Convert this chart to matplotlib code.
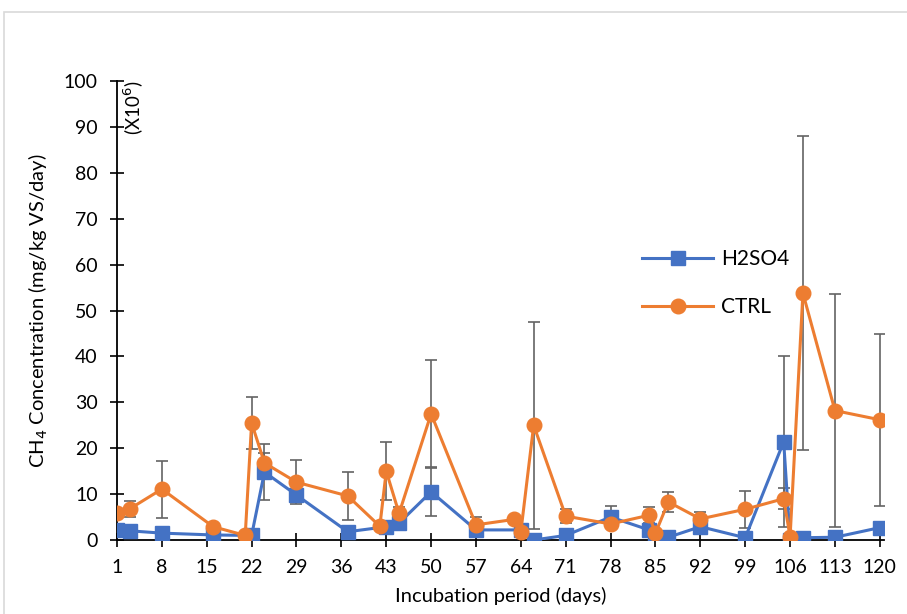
import numpy as np
import matplotlib
matplotlib.use("Agg")
import matplotlib.pyplot as plt
from matplotlib.patches import Rectangle

plt.rcParams['font.family'] = ['Lato', 'DejaVu Sans']

# H2SO4 treatment
h2so4_days = [1, 3, 8, 16, 22, 24, 29, 37, 43, 45, 50, 57, 64, 66, 71, 78, 84, 85, 87, 92, 99, 105, 106, 108, 113, 120]
h2so4_vals = [2.1, 2.0, 1.5, 1.1, 1.0, 14.8, 9.8, 1.8, 2.9, 3.7, 10.5, 2.2, 2.2, 0.0, 1.0, 5.0, 2.2, 0.5, 0.6, 2.9, 0.5, 21.4, 0.1, 0.5, 0.6, 2.7]
h2so4_err = [0.4, 0.3, 0.3, 0.3, 0.3, 6.1, 1.2, 0.4, 0.5, 0.8, 5.2, 0.4, 0.4, 0.2, 0.3, 2.4, 0.5, 0.2, 0.2, 0.6, 0.2, 18.6, 0.1, 0.2, 0.2, 0.4]

# Control
ctrl_days = [1, 3, 8, 16, 21, 22, 24, 29, 37, 42, 43, 45, 50, 57, 63, 64, 66, 71, 78, 84, 85, 87, 92, 99, 105, 106, 108, 113, 120]
ctrl_vals = [5.8, 6.8, 11.1, 2.9, 1.0, 25.5, 16.8, 12.6, 9.6, 3.0, 15.0, 5.8, 27.5, 3.3, 4.5, 1.8, 25.0, 5.2, 3.5, 5.4, 1.5, 8.3, 4.6, 6.7, 9.0, 0.7, 53.8, 28.2, 26.2]
ctrl_err = [0.5, 1.7, 6.2, 0.5, 0.3, 5.7, 2.2, 4.8, 5.2, 0.5, 6.3, 1.4, 11.7, 1.7, 0.5, 0.3, 22.5, 1.6, 0.5, 1.8, 0.3, 2.2, 1.5, 4.0, 2.3, 0.3, 34.2, 25.4, 18.7]

xticks = list(range(1, 121, 7))

fig = plt.figure(figsize=(9.07, 6.14), dpi=100)
ax = fig.add_axes([0.129, 0.1205, 0.846, 0.7475])

# light grey chart-area border
fig.patches.append(Rectangle((0.0045, -0.05), 1.2, 1.03, transform=fig.transFigure,
                             fill=False, edgecolor='#d9d9d9', linewidth=1.2))

errkw = dict(fmt='none', ecolor='#636363', elinewidth=1.2, capsize=4.5, capthick=1.2, zorder=1)
ax.errorbar(h2so4_days, h2so4_vals, yerr=h2so4_err, **errkw)
ax.errorbar(ctrl_days, ctrl_vals, yerr=ctrl_err, **errkw)

ax.plot(h2so4_days, h2so4_vals, color='#4472C4', marker='s', markersize=10, linewidth=2.2,
        label='H2SO4', zorder=3)
ax.plot(ctrl_days, ctrl_vals, color='#ED7D31', marker='o', markersize=10.5, linewidth=2.2,
        label='CTRL', zorder=4)

ax.set_xlim(1, 120.7)
ax.set_ylim(0, 100)
ax.set_xticks(xticks)
ax.set_yticks(range(0, 101, 10))
ax.tick_params(direction='inout', length=9.5, width=1.2, labelsize=14, color='black')
ax.tick_params(axis='x', pad=9)
ax.tick_params(axis='y', pad=9)
for s in ['top', 'right']:
    ax.spines[s].set_visible(False)
for s in ['left', 'bottom']:
    ax.spines[s].set_linewidth(1.3)

ax.set_xlabel('Incubation period (days)', fontsize=14.5, labelpad=8)
ax.set_ylabel('CH$_4$ Concentration (mg/kg VS/day)', fontsize=14.5, labelpad=10)
ax.text(0.006, 1.0, '(X10$^6$)', transform=ax.transAxes, rotation=90,
        ha='left', va='top', fontsize=13.5)

ax.legend(loc='upper left', bbox_to_anchor=(0.66, 0.675), frameon=False,
          fontsize=15, handlelength=3.4, labelspacing=1.35, handletextpad=0.4)

fig.savefig('out.png', dpi=100)
